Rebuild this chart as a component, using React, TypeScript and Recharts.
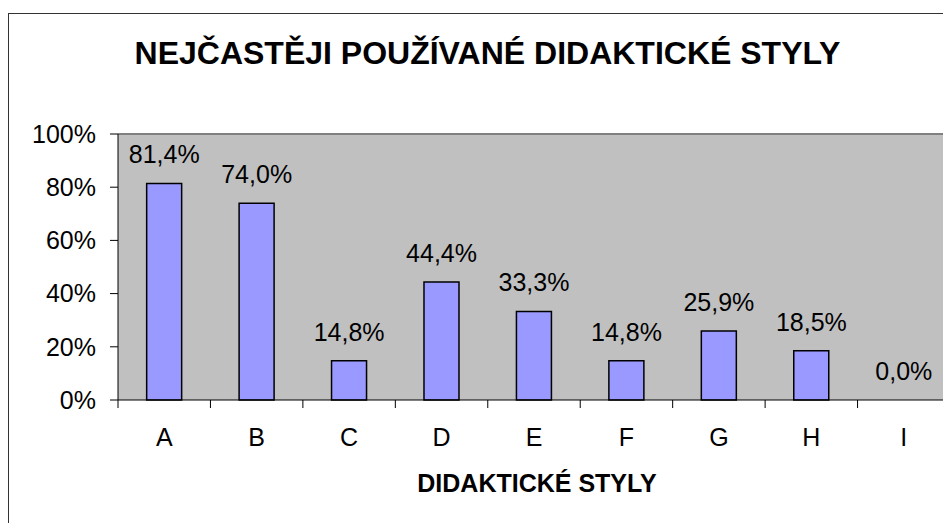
import { Bar, CartesianGrid, ComposedChart, LabelList, Line, ReferenceLine, XAxis, YAxis } from 'recharts'

const CATEGORIES = ['A', 'B', 'C', 'D', 'E', 'F', 'G', 'H', 'I']
const SHARES = [81.4, 74.0, 14.8, 44.4, 33.3, 14.8, 25.9, 18.5, 0.0]
const Y_TICKS = [0, 20, 40, 60, 80, 100]

const CHART_W = 942
const CHART_H = 509
const Y_AXIS_W = 109
const MARGIN = { top: 120, right: 1, left: 0, bottom: 0 }
const X_AXIS_H = 123
const TICK_SIZE = 8
const X_TICK_MARGIN = 20
const BAND = (CHART_W - Y_AXIS_W - MARGIN.right) / CATEGORIES.length

const FONT = '"Liberation Sans", Arial, sans-serif'

const fmtPct = (v: number) => v.toFixed(1).replace('.', ',') + '%'

function CategoryTick(props: any) {
  const { x, y, payload, index, visibleTicksCount } = props
  const axisY = y - TICK_SIZE - X_TICK_MARGIN
  const half = BAND / 2
  return (
    <g>
      <line x1={x - half} x2={x - half} y1={axisY} y2={axisY + TICK_SIZE} stroke="#000" />
      {index === visibleTicksCount - 1 && (
        <line x1={x + half} x2={x + half} y1={axisY} y2={axisY + TICK_SIZE} stroke="#000" />
      )}
      <text x={x} y={y} dy="0.71em" textAnchor="middle" fontSize={25} fill="#000">
        {payload.value}
      </text>
    </g>
  )
}

export default function App() {
  const data = CATEGORIES.map((cat, i) => ({ cat, share: SHARES[i] }))

  return (
    <div style={{ paddingTop: 5 }}>
      <style>{'body{overflow:hidden}'}</style>
      <div
        style={{
          position: 'relative',
          width: CHART_W,
          height: CHART_H,
          borderLeft: '1px solid #333',
          borderTop: '1px solid #333',
          fontFamily: FONT,
          background: '#fff',
        }}
      >
        <div
          style={{
            position: 'absolute',
            left: 15,
            right: 0,
            top: 23,
            textAlign: 'center',
            fontSize: 32,
            lineHeight: '32px',
            fontWeight: 'bold',
            color: '#000',
          }}
        >
          NEJČASTĚJI POUŽÍVANÉ DIDAKTICKÉ STYLY
        </div>
        <ComposedChart width={CHART_W} height={CHART_H} data={data} margin={MARGIN} barCategoryGap="31%">
          <CartesianGrid horizontal={false} vertical={false} fill="#C0C0C0" />
          <XAxis
            dataKey="cat"
            height={X_AXIS_H}
            tickSize={TICK_SIZE}
            tickMargin={X_TICK_MARGIN}
            tickLine={false}
            axisLine={{ stroke: '#000' }}
            tick={<CategoryTick />}
            label={{
              value: 'DIDAKTICKÉ STYLY',
              position: 'insideBottom',
              offset: 31,
              dx: 3,
              fill: '#000',
              fontSize: 25,
              fontWeight: 'bold',
            }}
          />
          <YAxis
            width={Y_AXIS_W}
            domain={[0, 100]}
            ticks={Y_TICKS}
            tickFormatter={(v: number) => `${v}%`}
            tickSize={TICK_SIZE}
            tickMargin={14}
            tick={{ fill: '#000', fontSize: 25 }}
            tickLine={{ stroke: '#000' }}
            axisLine={{ stroke: '#000' }}
          />
          <ReferenceLine y={100} stroke="#808080" strokeWidth={2} />
          <ReferenceLine x="I" position="end" stroke="#808080" strokeWidth={2} />
          <Bar dataKey="share" fill="#9999FF" stroke="#000" strokeWidth={1.5} isAnimationActive={false} />
          <Line dataKey="share" stroke="none" dot={false} activeDot={false} isAnimationActive={false}>
            <LabelList dataKey="share" position="top" offset={20} formatter={(v: any) => fmtPct(Number(v))} fill="#000" fontSize={25} />
          </Line>
        </ComposedChart>
      </div>
    </div>
  )
}
